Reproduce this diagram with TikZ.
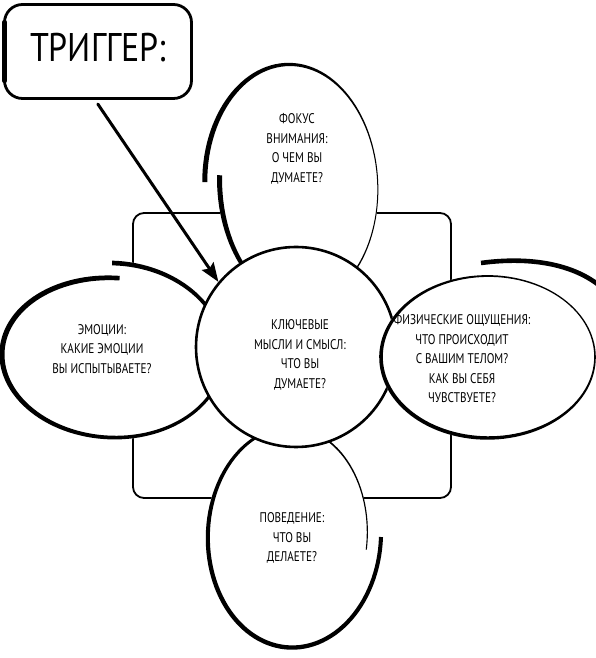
\documentclass[tikz,border=0pt]{standalone}
\usepackage{fontspec}
\setmainfont[FakeStretch=0.8]{PT Sans}
\usetikzlibrary{arrows.meta}

% hand drawn oval: centre, start/end angle, x radii, y radii, pen width
\newcommand{\inkloop}[9]{%
  \begin{scope}[declare function={fr(\x)=(\x-(#3))/((#4)-(#3));
      ra(\x)=#5+(#6-(#5))*fr(\x); rb(\x)=#7+(#8-(#7))*fr(\x); pw(\x)=0.5*(#9);}]
    \fill[white] plot[domain=#3:#4,samples=120]
      ({#1+(ra(\x)+pw(\x))*cos(\x)},{#2+(rb(\x)+pw(\x))*sin(\x)}) -- cycle;
    \fill[black] plot[domain=#3:#4,samples=120]
      ({#1+(ra(\x)+pw(\x))*cos(\x)},{#2+(rb(\x)+pw(\x))*sin(\x)})
      -- plot[domain=#4:#3,samples=120]
      ({#1+(ra(\x)-pw(\x))*cos(\x)},{#2+(rb(\x)-pw(\x))*sin(\x)}) -- cycle;
  \end{scope}}

\begin{document}
\begin{tikzpicture}[x=1pt,y=1pt,line cap=round,line join=round,
    note/.style={align=center,inner sep=0pt,font=\fontsize{14}{19.5}\selectfont}]
  \useasboundingbox (0,0) rectangle (596,658);
  % frame behind the ovals
  \draw[line width=1.8pt,rounded corners=11pt] (133,160) rectangle (451,445);
  % top, left and bottom ovals
  \begin{scope}[rotate around={5:(295,473)}]
    \inkloop{295}{473}{172}{535}{75}{90}{117}{122}{3+2*cos(\x-170)}
  \end{scope}
  \inkloop{112}{304}{90}{-274}{113}{109}{91}{76}{4.2+cos(\x-150)}
  \inkloop{291}{123}{-1}{-368}{90}{76}{115}{105}{4.8-3*fr(\x)+0.8*cos(\x-200)}
  % middle circle
  \node[circle,draw,fill=white,line width=2.6pt,minimum size=200pt] (key) at (296,311) {};
  % right oval
  \inkloop{488}{301}{85}{445}{107}{107}{81}{81}{2.6+1.3*cos(\x-220)}
  \draw[line width=4.6pt,line cap=butt] (481,395) .. controls (525,401) and (570,396) .. (600,372);
  % texts
  \node[note] (focus) at (297,509) {ФОКУС\\ВНИМАНИЯ:\\О ЧЕМ ВЫ\\ДУМАЕТЕ?};
  \node[note] (keytext) at (300,303) {КЛЮЧЕВЫЕ\\МЫСЛИ И СМЫСЛ:\\ЧТО ВЫ\\ДУМАЕТЕ?};
  \node[note] (emotions) at (102,309) {ЭМОЦИИ:\\КАКИЕ ЭМОЦИИ\\ВЫ ИСПЫТЫВАЕТЕ?};
  \node[note] (body) at (462,299) {ФИЗИЧЕСКИЕ ОЩУЩЕНИЯ:\\ЧТО ПРОИСХОДИТ\\С ВАШИМ ТЕЛОМ?\\КАК ВЫ СЕБЯ\\ЧУВСТВУЕТЕ?};
  \node[note] (behaviour) at (292,120) {ПОВЕДЕНИЕ:\\ЧТО ВЫ\\ДЕЛАЕТЕ?};
  % trigger box and arrow
  \node[draw,line width=2.8pt,rounded corners=18pt,minimum width=187pt,minimum height=94pt,
    text depth=8pt,font=\fontsize{40}{44}\selectfont\addfontfeature{FakeStretch=0.85}] (trigger) at (98,606.5) {ТРИГГЕР:};
  \draw[line width=4.5pt] ([xshift=1.4pt,yshift=-19pt]trigger.north west) -- ([xshift=1.4pt,yshift=19pt]trigger.south west);
  \draw[line width=3pt,-{Stealth[length=19pt,width=14pt,inset=3pt]},shorten <=5pt]
    ([xshift=-3pt]trigger.south) -- (key.140);
\end{tikzpicture}
\end{document}
